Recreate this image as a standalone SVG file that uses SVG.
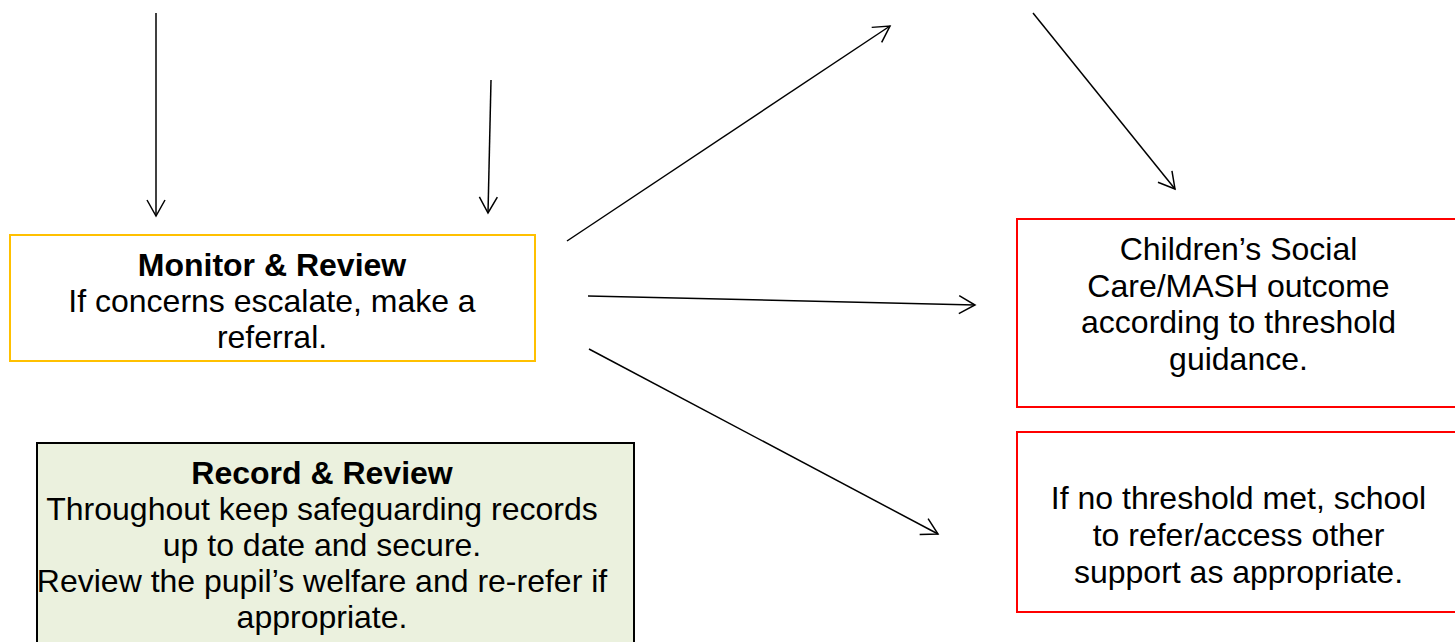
<svg xmlns="http://www.w3.org/2000/svg" width="1455" height="642" viewBox="0 0 1455 642">
<style>
.t{font-family:"Liberation Sans",Arial,sans-serif;font-size:32px;fill:#000;text-anchor:middle}
.b{font-weight:bold}
.c{stroke:#000;stroke-width:1.5;fill:none;marker-end:url(#ah)}
</style>
<defs>
<marker id="ah" markerUnits="userSpaceOnUse" markerWidth="22" markerHeight="22" refX="17" refY="10" orient="auto" overflow="visible">
<path d="M1,1 L17,10 L1,19" fill="none" stroke="#000" stroke-width="1.5"/>
</marker>
</defs>
<rect width="1455" height="642" fill="#fff"/>
<g id="connectors">
<line class="c" x1="156" y1="13" x2="156" y2="216"/>
<line class="c" x1="491" y1="80" x2="488" y2="213"/>
<line class="c" x1="567" y1="241" x2="890" y2="26"/>
<line class="c" x1="588" y1="296" x2="975" y2="305"/>
<line class="c" x1="589" y1="349" x2="938" y2="534"/>
<line class="c" x1="1033" y1="13" x2="1175" y2="189"/>
</g>
<g id="monitor">
<rect x="10" y="235" width="525" height="126" fill="#fff" stroke="#FFC000" stroke-width="2"/>
<text class="t b" x="272" y="276">Monitor &amp; Review</text>
<text class="t" x="272" y="312">If concerns escalate, make a</text>
<text class="t" x="272" y="348">referral.</text>
</g>
<g id="record">
<rect x="37" y="443" width="597" height="220" fill="#EBF1DE" stroke="#000" stroke-width="2"/>
<text class="t b" x="322" y="484">Record &amp; Review</text>
<text class="t" x="322" y="520">Throughout keep safeguarding records</text>
<text class="t" x="322" y="556">up to date and secure.</text>
<text class="t" x="322" y="592">Review the pupil’s welfare and re-refer if</text>
<text class="t" x="322" y="628">appropriate.</text>
</g>
<g id="outcome">
<rect x="1017" y="219" width="460" height="188" fill="#fff" stroke="#FF0000" stroke-width="2"/>
<text class="t" x="1238.5" y="260">Children’s Social</text>
<text class="t" x="1238.5" y="297">Care/MASH outcome</text>
<text class="t" x="1238.5" y="333">according to threshold</text>
<text class="t" x="1238.5" y="370">guidance.</text>
</g>
<g id="nothreshold">
<rect x="1017" y="432" width="460" height="180" fill="#fff" stroke="#FF0000" stroke-width="2"/>
<text class="t" x="1238.5" y="509">If no threshold met, school</text>
<text class="t" x="1238.5" y="546">to refer/access other</text>
<text class="t" x="1238.5" y="583">support as appropriate.</text>
</g>
</svg>
